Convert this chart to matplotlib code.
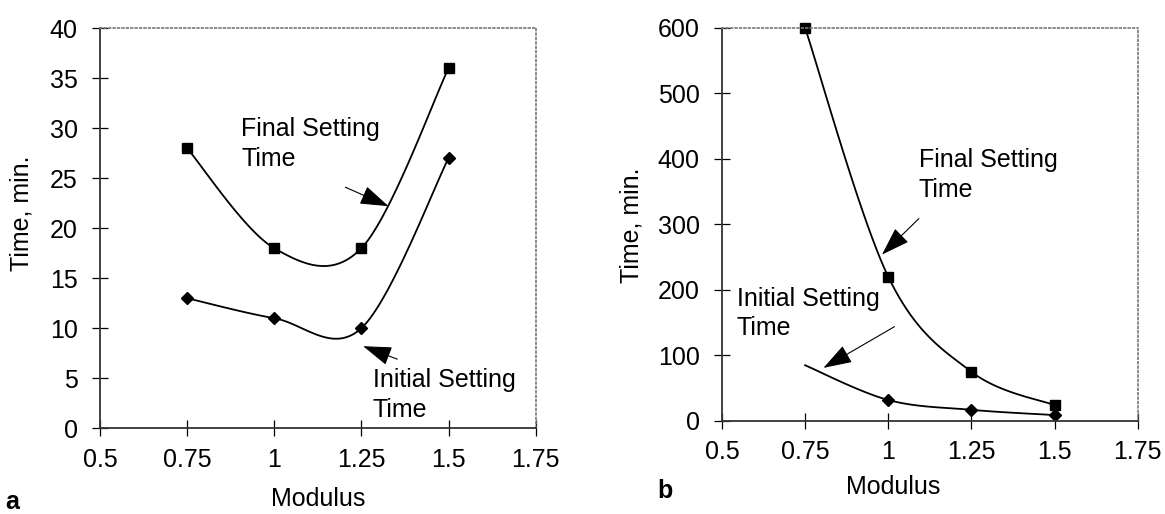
import numpy as np
import matplotlib
matplotlib.use('Agg')
import matplotlib.pyplot as plt

matplotlib.rcParams['font.family'] = ['Liberation Sans', 'DejaVu Sans']
matplotlib.rcParams['font.size'] = 18

modulus = [0.75, 1.0, 1.25, 1.5]

# (a) setting times, minutes
final_a = [28, 18, 18, 36]
initial_a = [13, 11, 10, 27]

# (b) setting times, minutes
final_b = [600, 220, 75, 24]
initial_b = [85, 32, 17, 9]

xticks = [0.5, 0.75, 1, 1.25, 1.5, 1.75]
xticklabels = ['0.5', '0.75', '1', '1.25', '1.5', '1.75']


def smooth_line(ax, x, y, n=40):
    """Bezier smoothing through the points, done in screen space
    the way spreadsheet 'smoothed line' charts do it."""
    pts = ax.transData.transform(np.column_stack([x, y]))
    out = [pts[0]]
    for i in range(len(pts) - 1):
        p0 = pts[max(i - 1, 0)]
        p1 = pts[i]
        p2 = pts[i + 1]
        p3 = pts[min(i + 2, len(pts) - 1)]
        c1 = p1 + (p2 - p0) / 6.0
        c2 = p2 - (p3 - p1) / 6.0
        t = np.linspace(0, 1, n)[1:, None]
        seg = ((1 - t) ** 3 * p1 + 3 * (1 - t) ** 2 * t * c1
               + 3 * (1 - t) * t ** 2 * c2 + t ** 3 * p2)
        out.extend(seg)
    out = ax.transData.inverted().transform(np.array(out))
    return out[:, 0], out[:, 1]


def style_axes(ax, ymax, ystep):
    ax.set_xlim(0.5, 1.75)
    ax.set_ylim(0, ymax)
    ax.set_xticks(xticks)
    ax.set_xticklabels(xticklabels)
    ax.set_yticks(np.arange(0, ymax + 1, ystep))
    ax.tick_params(direction='inout', length=12, width=0.9)
    ax.tick_params(axis='y', pad=10)
    ax.tick_params(axis='x', pad=8)
    for side in ('top', 'right'):
        ax.spines[side].set_color('#777777')
        ax.spines[side].set_linestyle(':')
        ax.spines[side].set_linewidth(1.2)
    for side in ('left', 'bottom'):
        ax.spines[side].set_color('#333333')
        ax.spines[side].set_linewidth(1.3)


arrow = dict(arrowstyle='-|>,head_length=0.9,head_width=0.3',
             color='k', lw=0.8, mutation_scale=20, shrinkA=0, shrinkB=0)

fig = plt.figure(figsize=(11.65, 5.14), dpi=100)

# ---- panel a
ax1 = fig.add_axes([0.0858, 0.167, 0.374, 0.778])
style_axes(ax1, 40, 5)
for vals, mk, ms in ((final_a, 's', 7.5), (initial_a, 'D', 6)):
    sx, sy = smooth_line(ax1, modulus, vals)
    ax1.plot(sx, sy, color='k', lw=1.3)
    ax1.plot(modulus, vals, ls='none', marker=mk, ms=ms, color='k',
             clip_on=False)
ax1.text(0.905, 28.4, 'Final Setting\nTime', va='center', ha='left',
         linespacing=1.3)
ax1.annotate('', xy=(1.328, 22.2), xytext=(1.204, 24.1), arrowprops=arrow)
ax1.text(1.282, 3.3, 'Initial Setting\nTime', va='center', ha='left',
         linespacing=1.3)
ax1.annotate('', xy=(1.255, 8.2), xytext=(1.353, 6.9), arrowprops=arrow)

# ---- panel b
ax2 = fig.add_axes([0.6197, 0.181, 0.357, 0.7646])
style_axes(ax2, 600, 100)
sx, sy = smooth_line(ax2, modulus, final_b)
ax2.plot(sx, sy, color='k', lw=1.3)
ax2.plot(modulus, final_b, ls='none', marker='s', ms=7.5, color='k',
         clip_on=False)
sx, sy = smooth_line(ax2, modulus, initial_b)
ax2.plot(sx, sy, color='k', lw=1.3)
ax2.plot(modulus[1:], initial_b[1:], ls='none', marker='D', ms=6,
         color='k', clip_on=False)
ax2.text(1.092, 375, 'Final Setting\nTime', va='center', ha='left',
         linespacing=1.3)
ax2.annotate('', xy=(0.981, 254), xytext=(1.092, 309), arrowprops=arrow)
ax2.text(0.545, 164, 'Initial Setting\nTime', va='center', ha='left',
         linespacing=1.3)
ax2.annotate('', xy=(0.805, 81), xytext=(1.0186, 144), arrowprops=arrow)

# axis titles and panel letters
fig.text(22 / 1165, 1 - 213 / 514, 'Time, min.', rotation=90,
         ha='center', va='center')
fig.text(632 / 1165, 1 - 225 / 514, 'Time, min.', rotation=90,
         ha='center', va='center')
fig.text(318 / 1165, 1 - 499 / 514, 'Modulus', ha='center', va='center')
fig.text(893 / 1165, 1 - 487 / 514, 'Modulus', ha='center', va='center')
fig.text(12 / 1165, 1 - 502 / 514, 'a', ha='center', va='center',
         fontweight='bold')
fig.text(665 / 1165, 1 - 491 / 514, 'b', ha='center', va='center',
         fontweight='bold')

fig.savefig('out.png', dpi=100)
